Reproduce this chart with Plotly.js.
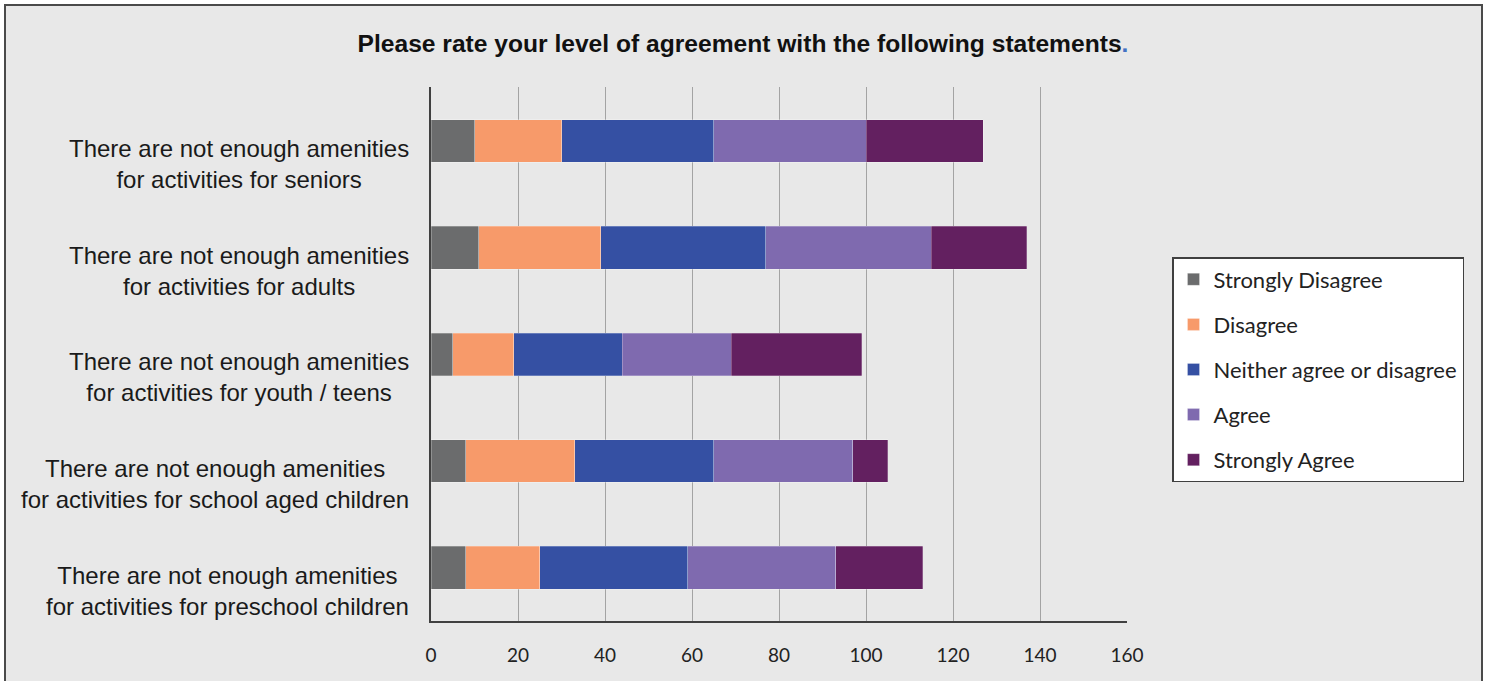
<!DOCTYPE html>
<html>
<head>
<meta charset="utf-8">
<script src="https://cdn.plot.ly/plotly-3.0.1.min.js"></script>
<style>
  html, body { margin: 0; padding: 0; background: #ffffff; }
  #frame { position: absolute; left: 4px; top: 4px; width: 1475px; height: 700px; border: 2px solid #4a4a4a; background: #e8e8e8; z-index: 0; }
  #chart { position: absolute; left: 0; top: 0; width: 1486px; height: 681px; z-index: 1; }
</style>
</head>
<body>
<div id="frame"></div>
<div id="chart"></div>
<script>
const categories = [
  "There are not enough amenities<br>for activities for seniors",
  "There are not enough amenities<br>for activities for adults",
  "There are not enough amenities<br>for activities for youth / teens",
  "There are not enough amenities<br>for activities for school aged children",
  "There are not enough amenities<br>for activities for preschool children"
];
const seriesNames = ["Strongly Disagree", "Disagree", "Neither agree or disagree", "Agree", "Strongly Agree"];
const stronglyDisagree = [10, 11, 5, 8, 8];
const disagree = [20, 28, 14, 25, 17];
const neither = [35, 38, 25, 32, 34];
const agree = [35, 38, 25, 32, 34];
const stronglyAgree = [27, 22, 30, 8, 20];
const xTicks = [0, 20, 40, 60, 80, 100, 120, 140, 160];

const colors = ["#6b6c6d", "#f79a6a", "#3550a3", "#7f6aaf", "#632060"];
const values = [stronglyDisagree, disagree, neither, agree, stronglyAgree];

const traces = values.map((v, i) => ({
  type: "bar",
  orientation: "h",
  name: seriesNames[i],
  x: v,
  y: categories,
  legendgroup: "g" + i,
  marker: { color: colors[i], line: { width: 0.5, color: "rgba(255,255,255,0.5)" } },
  hoverinfo: "x+name"
}));

const annotations = categories.map(c => ({
  xref: "paper", yref: "y",
  x: -0.0285, y: c,
  xanchor: "right", yanchor: "middle",
  align: "center",
  yshift: -23,
  showarrow: false,
  text: c,
  font: { family: "Liberation Sans, Arial, sans-serif", size: 24, color: "#1a1a1a" }
}));

const layout = {
  width: 1486, height: 681,
  paper_bgcolor: "rgba(0,0,0,0)",
  plot_bgcolor: "#e8e8e8",
  margin: { l: 431, r: 359, t: 87, b: 60, pad: 0 },
  barmode: "stack",
  bargap: 0.6,
  title: {
    text: "<b>Please rate your level of agreement with the following statements<span style='color:#4472c4'>.</span></b>",
    font: { family: "Liberation Sans, Arial, sans-serif", size: 24.6, color: "#111111" },
    x: 0.5, xref: "container", xanchor: "center",
    y: 1 - 43 / 681, yref: "container", yanchor: "middle"
  },
  xaxis: {
    range: [0, 160],
    tickvals: xTicks,
    ticktext: xTicks.map(String),
    showgrid: true, gridcolor: "#a3a3a3", gridwidth: 1,
    zeroline: false,
    showline: true, linecolor: "#404040", linewidth: 2,
    ticks: "", ticklabelstandoff: 16,
    tickfont: { family: "Lato, Open Sans, sans-serif", size: 19, color: "#222222" },
    fixedrange: true
  },
  yaxis: {
    type: "category",
    categoryorder: "array",
    categoryarray: categories,
    autorange: "reversed",
    showticklabels: false,
    showgrid: false,
    zeroline: false,
    showline: true, linecolor: "#404040", linewidth: 2,
    ticks: "",
    fixedrange: true
  },
  legend: {
    x: 1172 / 1486, xref: "container", xanchor: "left",
    y: 1 - 257 / 681, yref: "container", yanchor: "top",
    bgcolor: "#ffffff",
    bordercolor: "#404040", borderwidth: 1.5,
    font: { family: "Lato, Open Sans, sans-serif", size: 22, color: "#222222" },
    traceorder: "grouped",
    tracegroupgap: 13.5,
    itemwidth: 30
  },
  annotations: annotations,
  showlegend: true
};

Plotly.newPlot("chart", traces, layout, { displayModeBar: false, staticPlot: true });
</script>
</body>
</html>
